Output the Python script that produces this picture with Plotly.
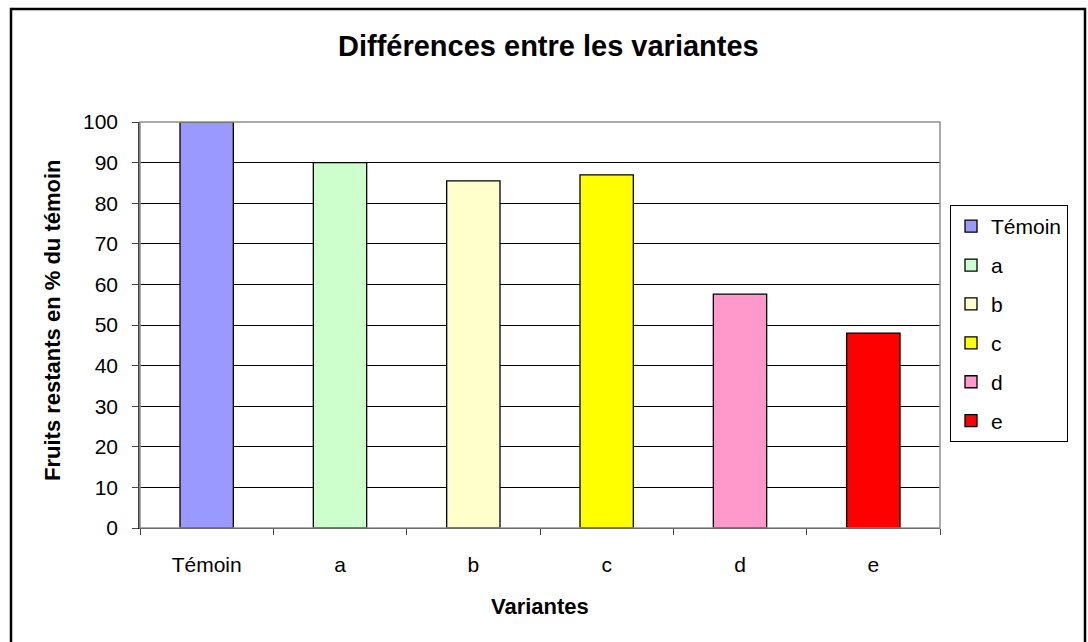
import plotly.graph_objects as go

categories = ["Témoin", "a", "b", "c", "d", "e"]
values = [100, 90, 85.5, 87, 57.6, 48]
colors = ["#9999FF", "#CCFFCC", "#FFFFCC", "#FFFF00", "#FF99CC", "#FF0000"]
y_ticks = list(range(0, 101, 10))

W, H = 1088, 642
L, R, T, B = 140, 940, 122, 528

def px_x(px):
    return (px - L) / (R - L)

def px_y(py):
    return (B - py) / (B - T)

fig = go.Figure()
for i, (c, v, col) in enumerate(zip(categories, values, colors)):
    fig.add_trace(go.Bar(
        x=[c], y=[v], name=c, marker=dict(color=col, line=dict(color="black", width=1.3)),
        width=0.4, legendgroup=c, showlegend=True,
    ))

font = "Liberation Sans, Arial, sans-serif"
fig.update_layout(
    width=W, height=H,
    margin=dict(l=L, r=W - R, t=T, b=H - B, pad=0),
    paper_bgcolor="white", plot_bgcolor="white",
    barmode="overlay",
    font=dict(family=font, size=21, color="black"),
    showlegend=True,
    legend=dict(
        x=px_x(950), y=px_y(205), xanchor="left", yanchor="top",
        bordercolor="black", borderwidth=1, bgcolor="white",
        font=dict(size=21), tracegroupgap=8.6, itemwidth=30,
    ),
    xaxis=dict(
        type="category", categoryorder="array", categoryarray=categories,
        tickson="boundaries", ticks="outside", ticklen=6, tickcolor="#444",
        showline=True, linecolor="black", linewidth=1,
        showgrid=False, ticklabelstandoff=18, range=[-0.5, 5.5],
    ),
    yaxis=dict(
        range=[0, 100], tickvals=y_ticks, ticks="outside", ticklen=6, tickcolor="#444",
        showline=True, linecolor="#444", linewidth=1.5,
        showgrid=True, gridcolor="black", gridwidth=1, zeroline=False,
        ticklabelstandoff=10,
    ),
    shapes=[
        dict(type="rect", xref="paper", yref="paper", x0=0, x1=1, y0=0, y1=1,
             line=dict(color="#909090", width=1.5), fillcolor="rgba(0,0,0,0)", layer="above"),
        dict(type="rect", xref="paper", yref="paper", x0=px_x(11), x1=px_x(1085),
             y0=px_y(660), y1=px_y(9), line=dict(color="black", width=2.5),
             fillcolor="rgba(0,0,0,0)"),
    ],
    annotations=[
        dict(text="<b>Différences entre les variantes</b>", xref="paper", yref="paper",
             x=px_x(548), y=px_y(46), xanchor="center", yanchor="middle",
             showarrow=False, font=dict(size=29, family=font)),
        dict(text="<b>Fruits restants en % du témoin</b>", xref="paper", yref="paper",
             x=px_x(52), y=px_y(320), xanchor="center", yanchor="middle", textangle=-90,
             showarrow=False, font=dict(size=22, family=font)),
        dict(text="<b>Variantes</b>", xref="paper", yref="paper",
             x=px_x(540), y=px_y(606), xanchor="center", yanchor="middle",
             showarrow=False, font=dict(size=22, family=font)),
    ],
)

fig.write_html("out.html", config={"displayModeBar": False},
               post_script="document.body.style.margin='0';")
